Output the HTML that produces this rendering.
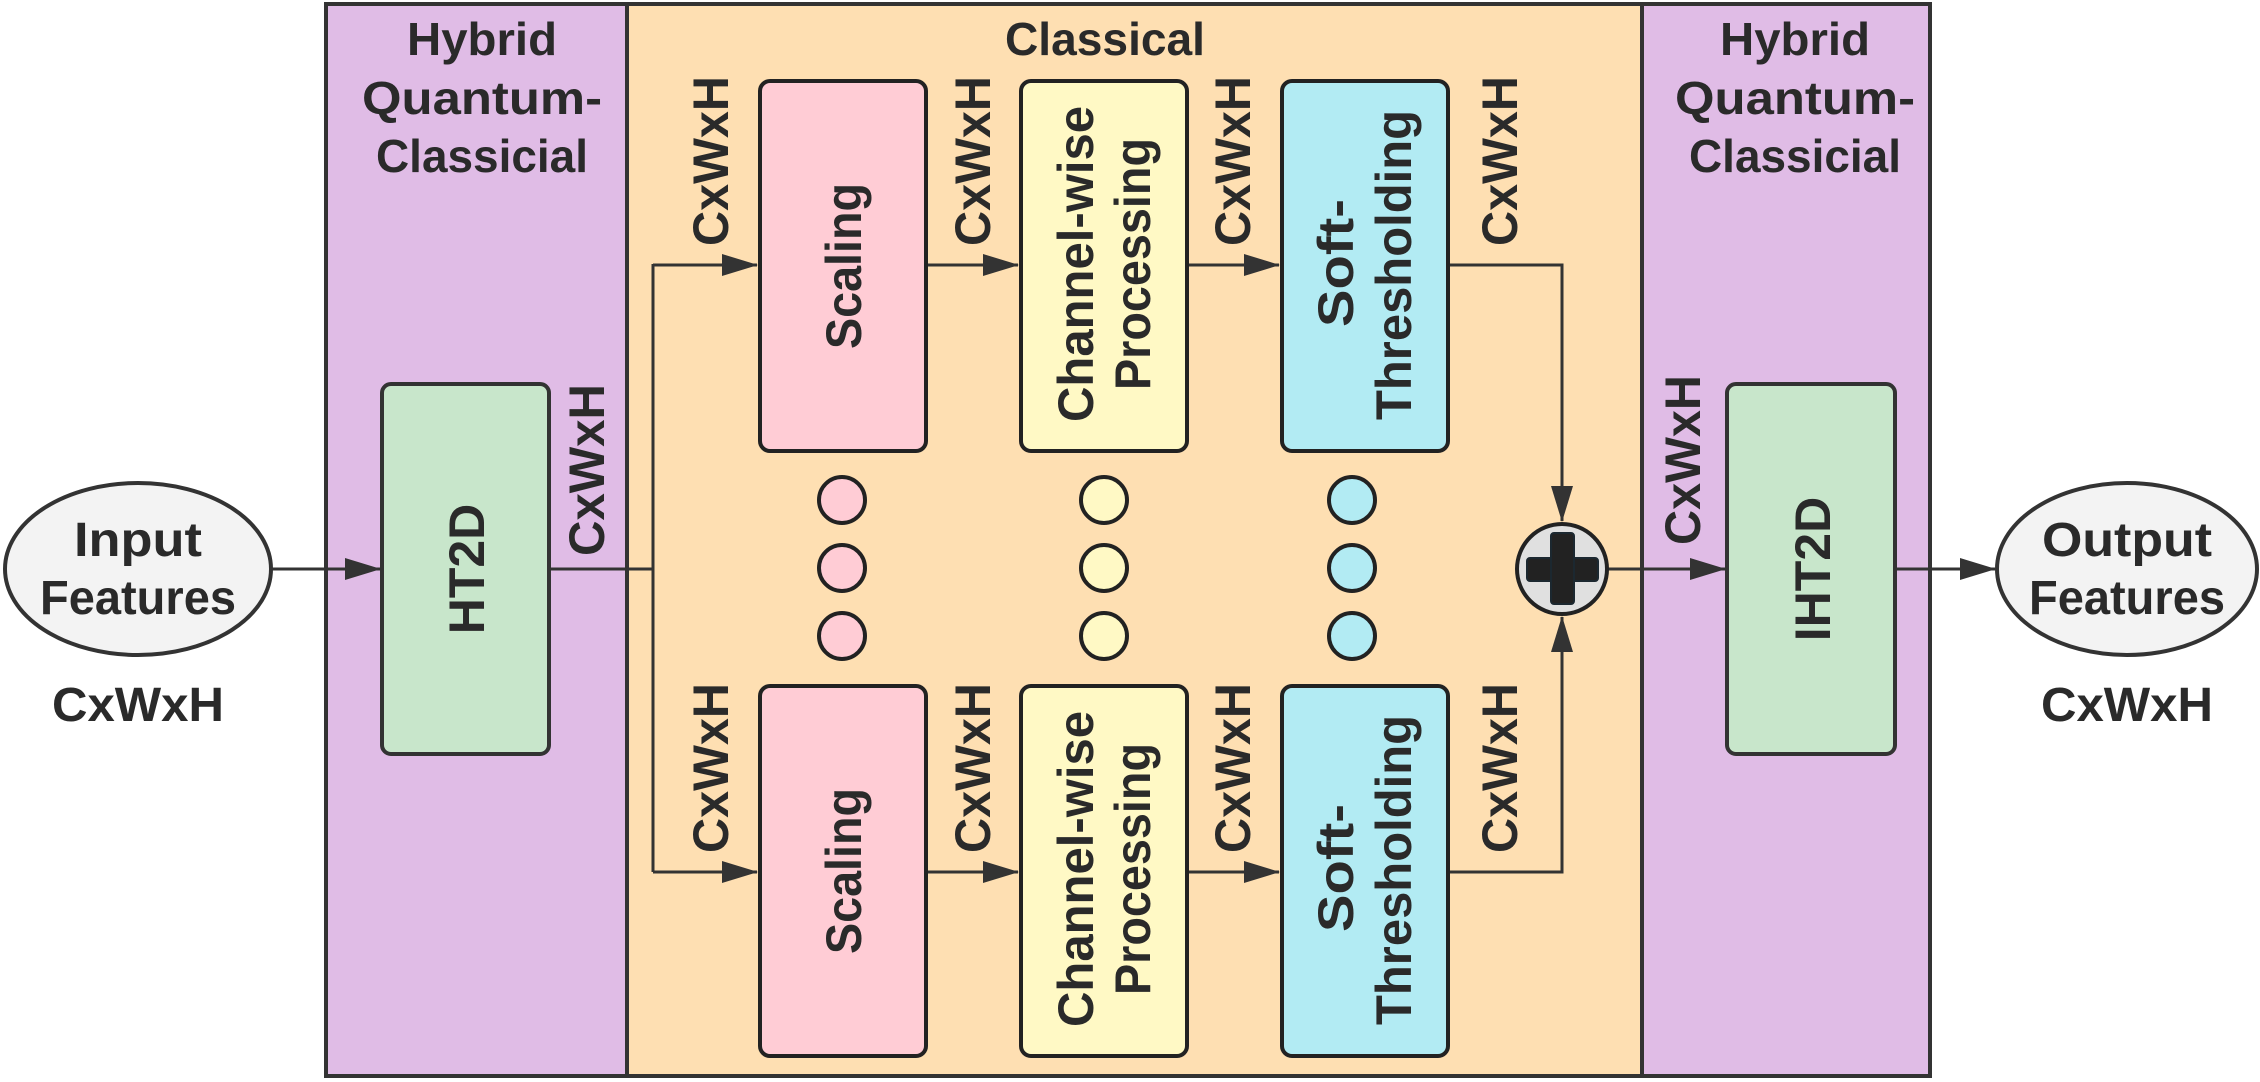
<!DOCTYPE html>
<html><head><meta charset="utf-8"><style>
html,body{margin:0;padding:0;background:#fff;}
svg{display:block;}
text{font-family:"Liberation Sans",sans-serif;font-weight:bold;fill:#2a2a2a;}
</style></head><body>
<svg width="2260" height="1082" viewBox="0 0 2260 1082" xmlns="http://www.w3.org/2000/svg">
<defs>
<marker id="arb" markerWidth="36" markerHeight="22" refX="35" refY="11" orient="auto" markerUnits="userSpaceOnUse" viewBox="0 0 36 22">
<path d="M0,0 L36,11 L0,22 z" fill="#333"/>
</marker>
</defs>
<rect x="326" y="4" width="301" height="1072" fill="#e0bce6" stroke="#333" stroke-width="4"/>
<rect x="627" y="4" width="1015" height="1072" fill="#fedfb2" stroke="#333" stroke-width="4"/>
<rect x="1642" y="4" width="288" height="1072" fill="#e0bce6" stroke="#333" stroke-width="4"/>

<text x="482" y="55" font-size="46" text-anchor="middle" textLength="150" lengthAdjust="spacingAndGlyphs">Hybrid</text>
<text x="482" y="114" font-size="46" text-anchor="middle" textLength="240" lengthAdjust="spacingAndGlyphs">Quantum-</text>
<text x="482" y="172" font-size="46" text-anchor="middle" textLength="212" lengthAdjust="spacingAndGlyphs">Classicial</text>
<text x="1795" y="55" font-size="46" text-anchor="middle" textLength="150" lengthAdjust="spacingAndGlyphs">Hybrid</text>
<text x="1795" y="114" font-size="46" text-anchor="middle" textLength="240" lengthAdjust="spacingAndGlyphs">Quantum-</text>
<text x="1795" y="172" font-size="46" text-anchor="middle" textLength="212" lengthAdjust="spacingAndGlyphs">Classicial</text>
<text x="1105" y="55" font-size="46" text-anchor="middle" textLength="200" lengthAdjust="spacingAndGlyphs">Classical</text>

<ellipse cx="138" cy="569" rx="133" ry="86" fill="#f3f3f3" stroke="#333" stroke-width="4"/>
<text x="138" y="556" font-size="48" text-anchor="middle" textLength="128" lengthAdjust="spacingAndGlyphs">Input</text>
<text x="138" y="614" font-size="48" text-anchor="middle" textLength="196" lengthAdjust="spacingAndGlyphs">Features</text>
<text x="138" y="721" font-size="48" text-anchor="middle" textLength="172" lengthAdjust="spacingAndGlyphs">CxWxH</text>
<ellipse cx="2127" cy="569" rx="130" ry="86" fill="#f3f3f3" stroke="#333" stroke-width="4"/>
<text x="2127" y="556" font-size="48" text-anchor="middle" textLength="170" lengthAdjust="spacingAndGlyphs">Output</text>
<text x="2127" y="614" font-size="48" text-anchor="middle" textLength="196" lengthAdjust="spacingAndGlyphs">Features</text>
<text x="2127" y="721" font-size="48" text-anchor="middle" textLength="172" lengthAdjust="spacingAndGlyphs">CxWxH</text>

<rect x="382" y="384" width="167" height="370" rx="9" fill="#c8e6cb" stroke="#333" stroke-width="4"/>
<text transform="translate(484,569) rotate(-90)" font-size="50" text-anchor="middle">HT2D</text>
<rect x="1727" y="384" width="168" height="370" rx="9" fill="#c8e6cb" stroke="#333" stroke-width="4"/>
<text transform="translate(1830,569) rotate(-90)" font-size="50" text-anchor="middle">IHT2D</text>

<g stroke="#333" stroke-width="3" fill="none">
<line x1="271" y1="569" x2="380" y2="569" marker-end="url(#arb)"/>
<polyline points="549,569 653,569"/>
<polyline points="653,264 653,872"/>
<line x1="653" y1="265" x2="757" y2="265" marker-end="url(#arb)"/>
<line x1="653" y1="872" x2="757" y2="872" marker-end="url(#arb)"/>
<line x1="926" y1="265" x2="1018" y2="265" marker-end="url(#arb)"/>
<line x1="926" y1="872" x2="1018" y2="872" marker-end="url(#arb)"/>
<line x1="1187" y1="265" x2="1279" y2="265" marker-end="url(#arb)"/>
<line x1="1187" y1="872" x2="1279" y2="872" marker-end="url(#arb)"/>
<polyline points="1448,265 1562,265 1562,521" marker-end="url(#arb)"/>
<polyline points="1448,872 1562,872 1562,617" marker-end="url(#arb)"/>
<line x1="1608" y1="569" x2="1725" y2="569" marker-end="url(#arb)"/>
<line x1="1895" y1="569" x2="1995" y2="569" marker-end="url(#arb)"/>
</g>

<circle cx="1562" cy="569" r="45" fill="#e0e0e0" stroke="#222" stroke-width="4"/>
<rect x="1527" y="558" width="71" height="23" rx="3" fill="#222" stroke="#1c2830" stroke-width="2"/>
<rect x="1551" y="533" width="23" height="71" rx="3" fill="#222" stroke="#1c2830" stroke-width="2"/>

<g stroke="#222" stroke-width="4">
<rect x="760" y="81" width="166" height="370" rx="10" fill="#ffccd5"/>
<rect x="1021" y="81" width="166" height="370" rx="10" fill="#fff9c5"/>
<rect x="1282" y="81" width="166" height="370" rx="10" fill="#b2ebf3"/>
<rect x="760" y="686" width="166" height="370" rx="10" fill="#ffccd5"/>
<rect x="1021" y="686" width="166" height="370" rx="10" fill="#fff9c5"/>
<rect x="1282" y="686" width="166" height="370" rx="10" fill="#b2ebf3"/>
<circle cx="842" cy="500" r="23" fill="#ffccd5"/>
<circle cx="842" cy="568" r="23" fill="#ffccd5"/>
<circle cx="842" cy="636" r="23" fill="#ffccd5"/>
<circle cx="1104" cy="500" r="23" fill="#fff9c5"/>
<circle cx="1104" cy="568" r="23" fill="#fff9c5"/>
<circle cx="1104" cy="636" r="23" fill="#fff9c5"/>
<circle cx="1352" cy="500" r="23" fill="#b2ebf3"/>
<circle cx="1352" cy="568" r="23" fill="#b2ebf3"/>
<circle cx="1352" cy="636" r="23" fill="#b2ebf3"/>
</g>

<g font-size="50">
<text transform="translate(861,266) rotate(-90)" text-anchor="middle" textLength="166" lengthAdjust="spacingAndGlyphs">Scaling</text>
<text transform="translate(861,871) rotate(-90)" text-anchor="middle" textLength="166" lengthAdjust="spacingAndGlyphs">Scaling</text>
<text transform="translate(1093,264) rotate(-90)" text-anchor="middle" textLength="316" lengthAdjust="spacingAndGlyphs">Channel-wise</text>
<text transform="translate(1150,264) rotate(-90)" text-anchor="middle" textLength="252" lengthAdjust="spacingAndGlyphs">Processing</text>
<text transform="translate(1093,869) rotate(-90)" text-anchor="middle" textLength="316" lengthAdjust="spacingAndGlyphs">Channel-wise</text>
<text transform="translate(1150,869) rotate(-90)" text-anchor="middle" textLength="252" lengthAdjust="spacingAndGlyphs">Processing</text>
<text transform="translate(1353,263) rotate(-90)" text-anchor="middle" textLength="128" lengthAdjust="spacingAndGlyphs">Soft-</text>
<text transform="translate(1411,265) rotate(-90)" text-anchor="middle" textLength="310" lengthAdjust="spacingAndGlyphs">Thresholding</text>
<text transform="translate(1353,868) rotate(-90)" text-anchor="middle" textLength="128" lengthAdjust="spacingAndGlyphs">Soft-</text>
<text transform="translate(1411,870) rotate(-90)" text-anchor="middle" textLength="310" lengthAdjust="spacingAndGlyphs">Thresholding</text>
</g>

<g font-size="50">
<text transform="translate(604,470) rotate(-90)" text-anchor="middle" textLength="172" lengthAdjust="spacingAndGlyphs">CxWxH</text>
<text transform="translate(728,161) rotate(-90)" text-anchor="middle" textLength="170" lengthAdjust="spacingAndGlyphs">CxWxH</text>
<text transform="translate(728,768) rotate(-90)" text-anchor="middle" textLength="170" lengthAdjust="spacingAndGlyphs">CxWxH</text>
<text transform="translate(990,161) rotate(-90)" text-anchor="middle" textLength="170" lengthAdjust="spacingAndGlyphs">CxWxH</text>
<text transform="translate(990,768) rotate(-90)" text-anchor="middle" textLength="170" lengthAdjust="spacingAndGlyphs">CxWxH</text>
<text transform="translate(1250,161) rotate(-90)" text-anchor="middle" textLength="170" lengthAdjust="spacingAndGlyphs">CxWxH</text>
<text transform="translate(1250,768) rotate(-90)" text-anchor="middle" textLength="170" lengthAdjust="spacingAndGlyphs">CxWxH</text>
<text transform="translate(1517,161) rotate(-90)" text-anchor="middle" textLength="170" lengthAdjust="spacingAndGlyphs">CxWxH</text>
<text transform="translate(1517,768) rotate(-90)" text-anchor="middle" textLength="170" lengthAdjust="spacingAndGlyphs">CxWxH</text>
<text transform="translate(1700,460) rotate(-90)" text-anchor="middle" textLength="170" lengthAdjust="spacingAndGlyphs">CxWxH</text>
</g>
</svg>
</body></html>
